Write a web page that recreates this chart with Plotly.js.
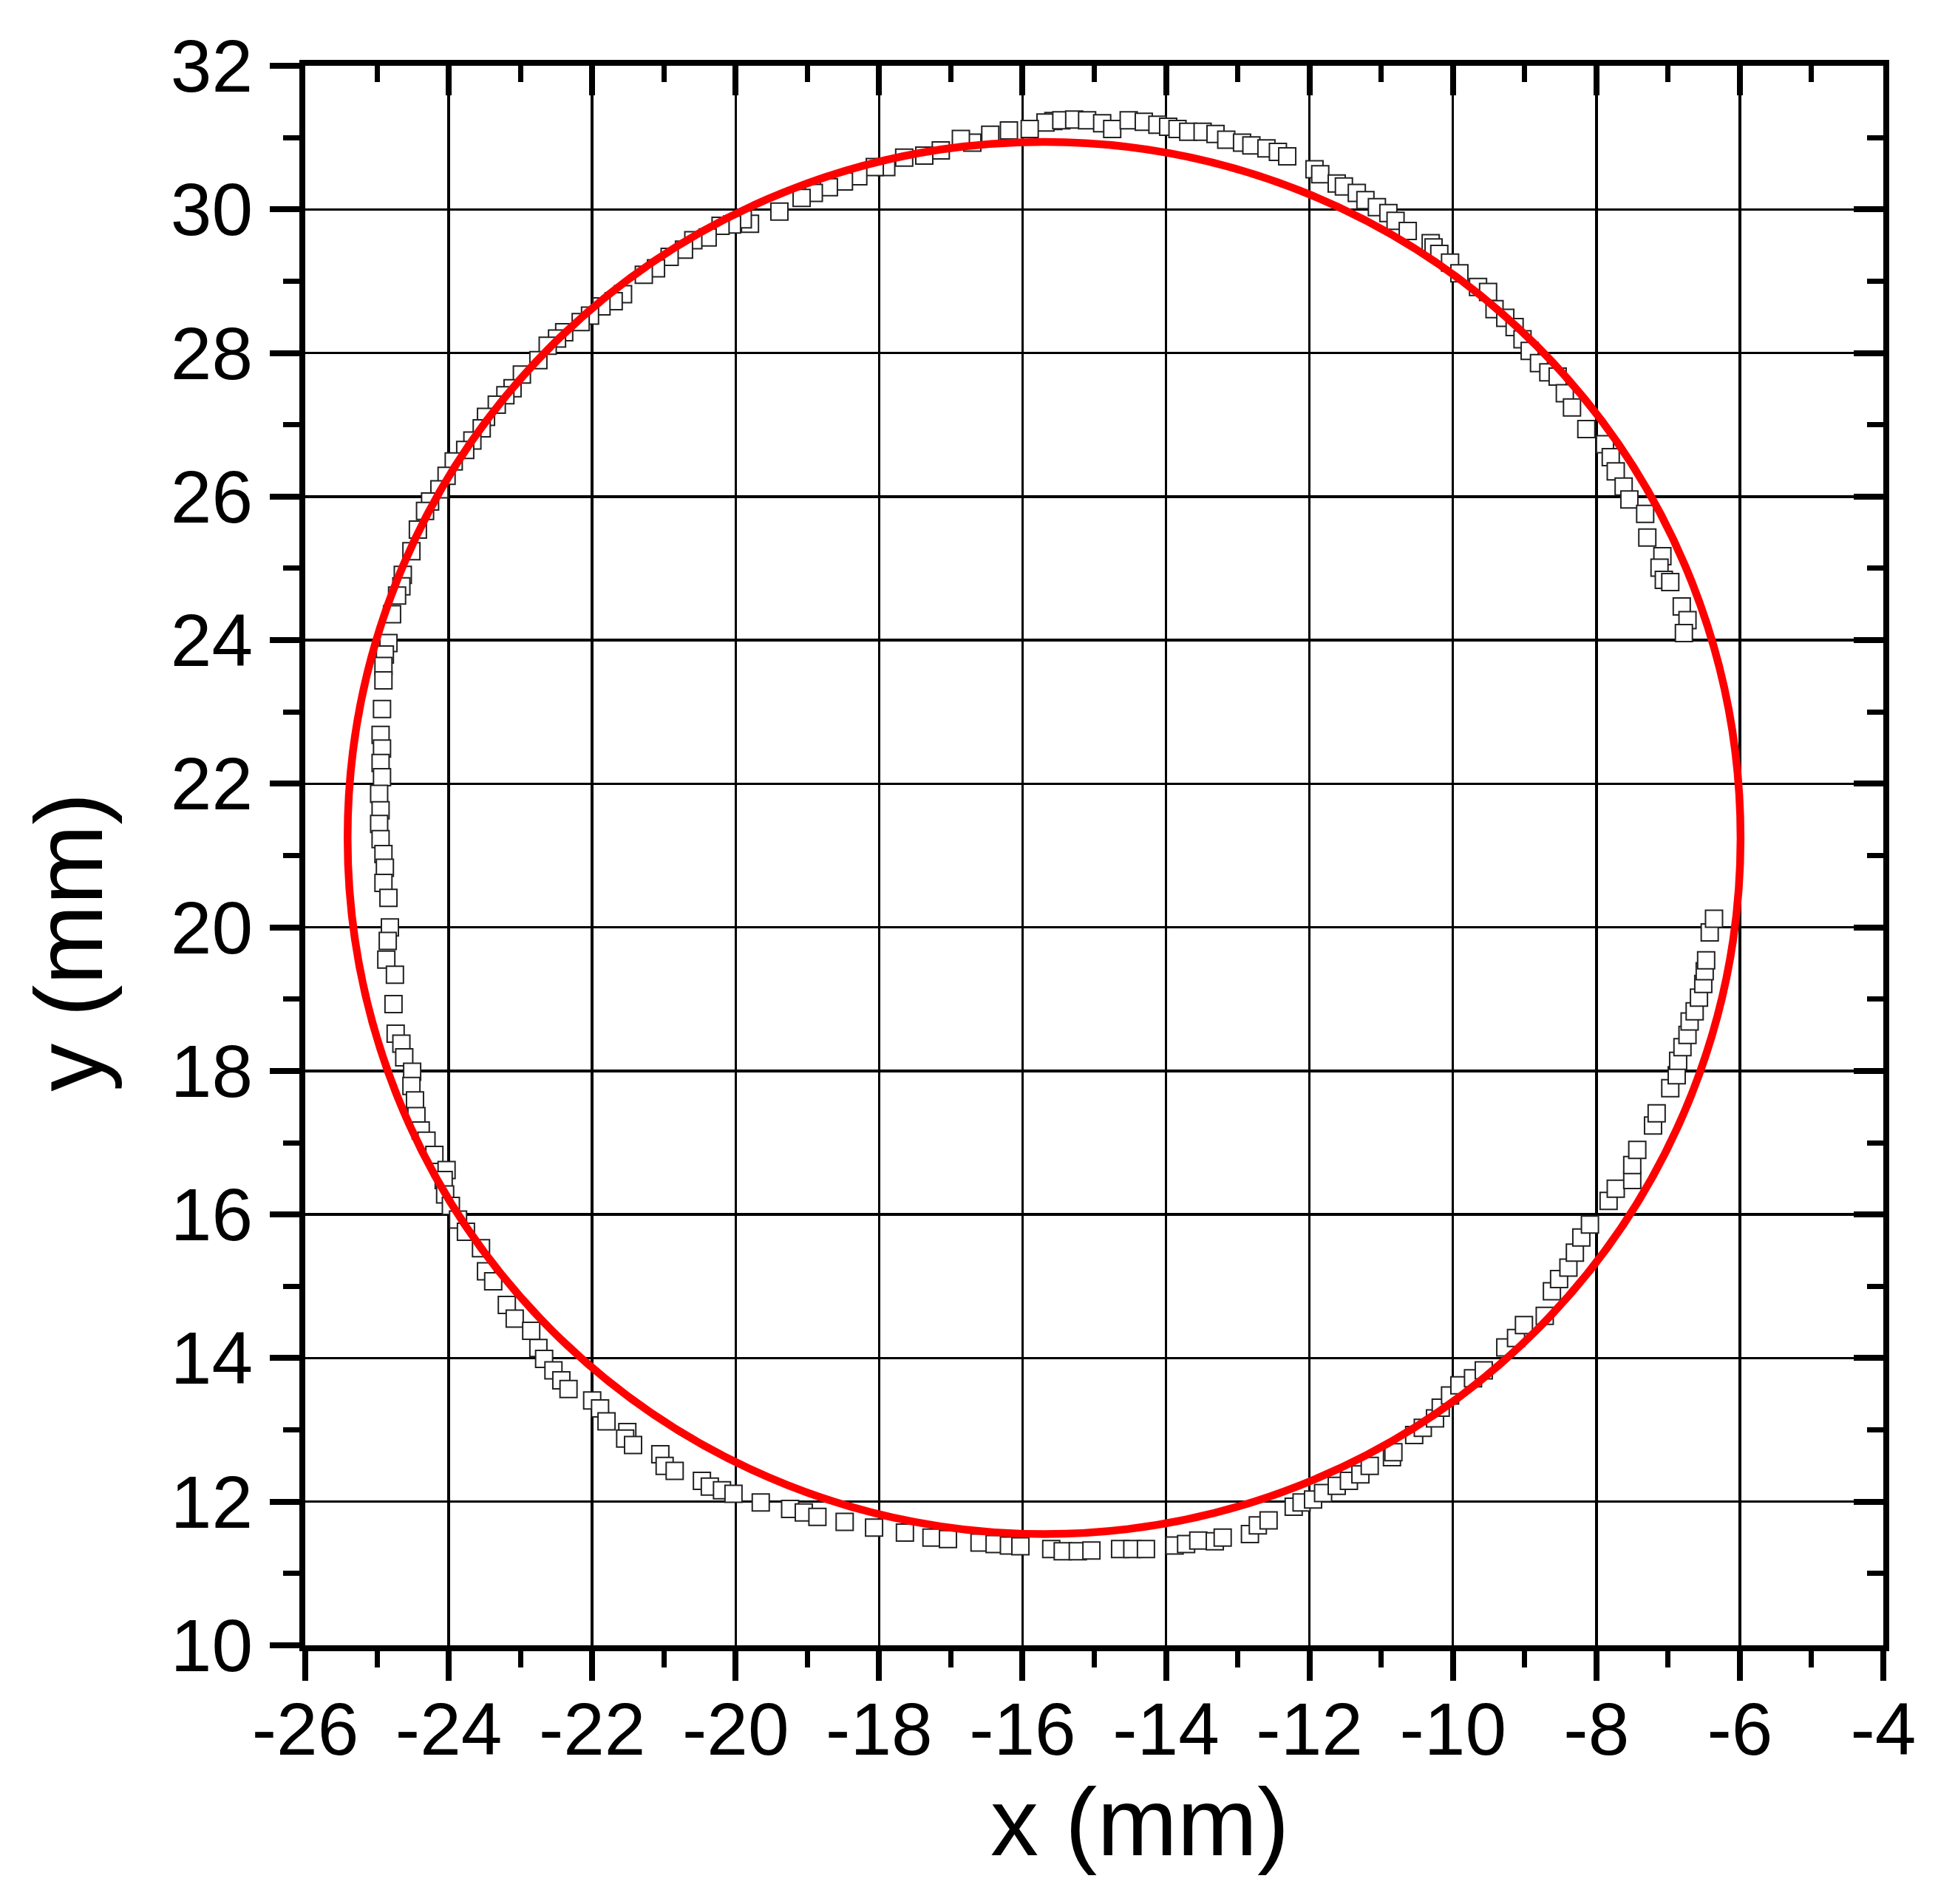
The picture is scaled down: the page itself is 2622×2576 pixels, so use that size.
<!DOCTYPE html>
<html>
<head>
<meta charset="utf-8">
<script src="https://cdn.plot.ly/plotly-3.0.1.min.js"></script>
<style>
  html, body { margin: 0; padding: 0; background: #fff; }
  #plot { width: 2622px; height: 2576px; }
</style>
</head>
<body>
<div id="plot"></div>
<script>
'use strict';

// Edge points (mm), split into four arcs
var upperLeftX = [-15.57, -15.68, -15.90, -16.19, -16.45, -16.70, -16.86, -17.14, -17.37, -17.65,
    -17.90, -18.06, -18.29, -18.49, -18.70, -18.91, -19.08, -19.39, -19.80, -19.90,
    -20.05, -20.21, -20.39, -20.59, -20.72, -20.92, -21.11, -21.28, -21.57, -21.70,
    -21.87, -22.03, -22.16, -22.39, -22.49, -22.62, -22.75, -22.98, -23.11, -23.21,
    -23.33, -23.48, -23.54, -23.67, -23.77, -23.93, -24.03, -24.13, -24.26, -24.33,
    -24.43, -24.52, -24.64, -24.66, -24.72, -24.79, -24.84, -24.89, -24.91, -24.91,
    -24.93, -24.95, -24.93, -24.95, -24.93, -24.97, -24.95, -24.97];
var upperLeftY = [31.23, 31.21, 31.12, 31.10, 31.04, 30.93, 30.98, 30.82, 30.75, 30.72,
    30.59, 30.59, 30.46, 30.39, 30.31, 30.23, 30.16, 29.97, 29.80, 29.86,
    29.79, 29.77, 29.61, 29.57, 29.44, 29.34, 29.18, 29.09, 28.82, 28.72,
    28.65, 28.52, 28.43, 28.29, 28.20, 28.10, 27.90, 27.70, 27.51, 27.41,
    27.28, 27.11, 26.95, 26.78, 26.65, 26.49, 26.29, 26.10, 25.93, 25.80,
    25.54, 25.24, 24.91, 24.75, 24.62, 24.36, 23.96, 23.80, 23.64, 23.44,
    23.04, 22.68, 22.49, 22.29, 22.09, 21.86, 21.63, 21.44];

var lowerLeftX = [-24.95, -24.91, -24.89, -24.91, -24.84, -24.82, -24.85, -24.87, -24.75, -24.77,
    -24.74, -24.66, -24.62, -24.51, -24.52, -24.47, -24.45, -24.39, -24.31, -24.20,
    -24.03, -24.07, -24.05, -23.97, -23.87, -23.76, -23.55, -23.48, -23.38, -23.19,
    -23.08, -22.85, -22.75, -22.67, -22.54, -22.43, -22.33, -22.00, -21.89, -21.80,
    -21.51, -21.54, -21.43, -21.05, -20.99, -20.85, -20.47, -20.36, -20.19, -20.03,
    -19.65, -19.24, -19.05, -18.86, -18.48, -18.07, -17.64, -17.27, -17.04, -16.60,
    -16.39, -16.19, -16.03, -15.60, -15.44];
var lowerLeftY = [21.23, 21.02, 20.83, 20.62, 20.41, 20.00, 19.81, 19.55, 19.34, 18.93,
    18.52, 18.38, 18.19, 17.99, 17.79, 17.59, 17.37, 17.17, 17.03, 16.83,
    16.62, 16.48, 16.28, 16.12, 15.93, 15.76, 15.53, 15.21, 15.07, 14.74,
    14.55, 14.38, 14.14, 13.99, 13.83, 13.69, 13.57, 13.41, 13.30, 13.12,
    12.97, 12.88, 12.79, 12.66, 12.50, 12.43, 12.29, 12.21, 12.16, 12.11,
    11.99, 11.90, 11.85, 11.79, 11.72, 11.64, 11.57, 11.50, 11.48, 11.43,
    11.41, 11.39, 11.38, 11.34, 11.31];

var lowerRightX = [-15.23, -15.04, -14.64, -14.47, -14.28, -13.88, -13.72, -13.55, -13.32, -13.21,
    -12.83, -12.72, -12.57, -12.22, -12.11, -11.95, -11.81, -11.62, -11.45, -11.29,
    -11.16, -10.85, -10.83, -10.54, -10.42, -10.25, -10.17, -10.04, -9.91, -9.72,
    -9.57, -9.27, -9.12, -9.01, -8.72, -8.62, -8.52, -8.39, -8.30, -8.21,
    -8.09, -7.83, -7.73, -7.50, -7.50, -7.43, -7.21, -7.16, -6.97, -6.88,
    -6.86, -6.80, -6.73, -6.70, -6.63, -6.57, -6.51, -6.49, -6.47, -6.42,
    -6.36];
var lowerRightY = [11.31, 11.32, 11.34, 11.34, 11.34, 11.39, 11.41, 11.46, 11.45, 11.50,
    11.55, 11.67, 11.74, 11.93, 11.99, 12.03, 12.12, 12.22, 12.29, 12.38,
    12.50, 12.62, 12.69, 12.93, 13.03, 13.16, 13.31, 13.48, 13.62, 13.72,
    13.83, 14.15, 14.28, 14.46, 14.59, 14.93, 15.10, 15.26, 15.47, 15.68,
    15.86, 16.19, 16.36, 16.48, 16.69, 16.90, 17.24, 17.41, 17.76, 17.94,
    18.14, 18.33, 18.50, 18.69, 18.83, 19.02, 19.21, 19.39, 19.54, 19.93,
    20.12];

var upperRightX = [-15.46, -15.28, -15.10, -14.89, -14.75, -14.52, -14.31, -14.12, -13.97, -13.84,
    -13.69, -13.49, -13.31, -13.16, -12.94, -12.81, -12.60, -12.44, -12.31, -11.93,
    -11.85, -11.62, -11.52, -11.34, -11.22, -11.06, -10.90, -10.80, -10.63, -10.31,
    -10.27, -10.19, -10.04, -9.91, -9.65, -9.51, -9.42, -9.27, -9.14, -9.03,
    -8.93, -8.80, -8.67, -8.54, -8.44, -8.34, -8.14, -7.88, -7.80, -7.73,
    -7.62, -7.54, -7.32, -7.29, -7.08, -7.12, -7.06, -6.97, -6.81, -6.73,
    -6.78];
var upperRightY = [31.24, 31.25, 31.24, 31.20, 31.12, 31.24, 31.22, 31.18, 31.15, 31.12,
    31.08, 31.08, 31.05, 30.97, 30.93, 30.89, 30.85, 30.80, 30.74, 30.56,
    30.49, 30.36, 30.32, 30.23, 30.13, 30.03, 29.95, 29.84, 29.70, 29.53,
    29.47, 29.38, 29.26, 29.11, 28.92, 28.85, 28.61, 28.49, 28.36, 28.19,
    28.03, 27.86, 27.73, 27.67, 27.44, 27.24, 26.94, 26.73, 26.55, 26.35,
    26.14, 25.96, 25.76, 25.43, 25.17, 25.01, 24.84, 24.81, 24.47, 24.28,
    24.10];

// fitted circle (centre and half-axes, mm)
var fitCenter = [-15.70, 21.245];
var fitRadius = [9.71, 9.695];

var xRange = [-26, -4];
var yRange = [10, 32];

// tick labels, plain hyphen as in the original
var xTickVals = [-26, -24, -22, -20, -18, -16, -14, -12, -10, -8, -6, -4];
var xTickText = ['-26', '-24', '-22', '-20', '-18', '-16', '-14', '-12', '-10', '-8', '-6', '-4'];
var yTickVals = [10, 12, 14, 16, 18, 20, 22, 24, 26, 28, 30, 32];
var yTickText = ['10', '12', '14', '16', '18', '20', '22', '24', '26', '28', '30', '32'];

var FONT = 'Liberation Sans, Arial, sans-serif';

var measured = {
    x: upperLeftX.concat(lowerLeftX, lowerRightX, upperRightX),
    y: upperLeftY.concat(lowerLeftY, lowerRightY, upperRightY),
    type: 'scatter',
    mode: 'markers',
    marker: {
        symbol: 'square',
        size: 23,
        color: '#ffffff',
        line: {color: '#222222', width: 2}
    },
    showlegend: false,
    hoverinfo: 'skip'
};

// empty trace so the top / right tick axes get their own subplot
var mirrorAxes = {
    x: [], y: [],
    xaxis: 'x2', yaxis: 'y2',
    type: 'scatter', mode: 'markers',
    showlegend: false
};

function mainAxis(range, t0, vals, text, standoff) {
    return {
        range: range,
        tickmode: 'array',
        tickvals: vals,
        ticktext: text,
        ticks: 'outside',
        ticklen: 40,
        tickwidth: 8,
        tickcolor: '#000',
        ticklabelstandoff: standoff,
        showline: true,
        linewidth: 8,
        linecolor: '#000',
        mirror: true,
        showgrid: true,
        gridcolor: '#000',
        gridwidth: 3.5,
        zeroline: false,
        tickfont: {family: FONT, size: 100, color: '#000'},
        minor: {
            tickmode: 'linear',
            tick0: t0,
            dtick: 1,
            ticks: 'outside',
            ticklen: 22,
            tickwidth: 7,
            tickcolor: '#000',
            showgrid: false
        }
    };
}

function insideAxis(range, t0, overlay, side, anchor) {
    return {
        range: range,
        overlaying: overlay,
        side: side,
        anchor: anchor,
        tick0: t0,
        dtick: 2,
        ticks: 'inside',
        ticklen: 40,
        tickwidth: 8,
        tickcolor: '#000',
        showticklabels: false,
        showline: false,
        showgrid: false,
        zeroline: false,
        minor: {
            dtick: 1,
            ticks: 'inside',
            ticklen: 22,
            tickwidth: 7,
            tickcolor: '#000',
            showgrid: false
        }
    };
}

var layout = {
    width: 2622,
    height: 2576,
    margin: {l: 413, r: 74, t: 89, b: 350},
    paper_bgcolor: '#fff',
    plot_bgcolor: '#fff',
    showlegend: false,
    xaxis: mainAxis(xRange, -26, xTickVals, xTickText, -20),
    yaxis: mainAxis(yRange, 10, yTickVals, yTickText, 3),
    xaxis2: insideAxis(xRange, -26, 'x', 'top', 'y'),
    yaxis2: insideAxis(yRange, 10, 'y', 'right', 'x'),
    shapes: [{
        type: 'circle',
        xref: 'x', yref: 'y',
        x0: fitCenter[0] - fitRadius[0],
        x1: fitCenter[0] + fitRadius[0],
        y0: fitCenter[1] - fitRadius[1],
        y1: fitCenter[1] + fitRadius[1],
        line: {color: '#ff0000', width: 10.5},
        layer: 'above'
    }],
    annotations: [
        {
            text: 'x (mm)',
            xref: 'paper', yref: 'paper',
            x: 0.529, y: -0.112,
            xanchor: 'center', yanchor: 'middle',
            showarrow: false,
            font: {family: FONT, size: 130, color: '#000'}
        },
        {
            text: 'y (mm)',
            xref: 'paper', yref: 'paper',
            x: -0.150, y: 0.445,
            xanchor: 'center', yanchor: 'middle',
            textangle: -90,
            showarrow: false,
            font: {family: FONT, size: 130, color: '#000'}
        }
    ]
};

Plotly.newPlot('plot', [measured, mirrorAxes], layout, {staticPlot: true, displayModeBar: false});
</script>
</body>
</html>
